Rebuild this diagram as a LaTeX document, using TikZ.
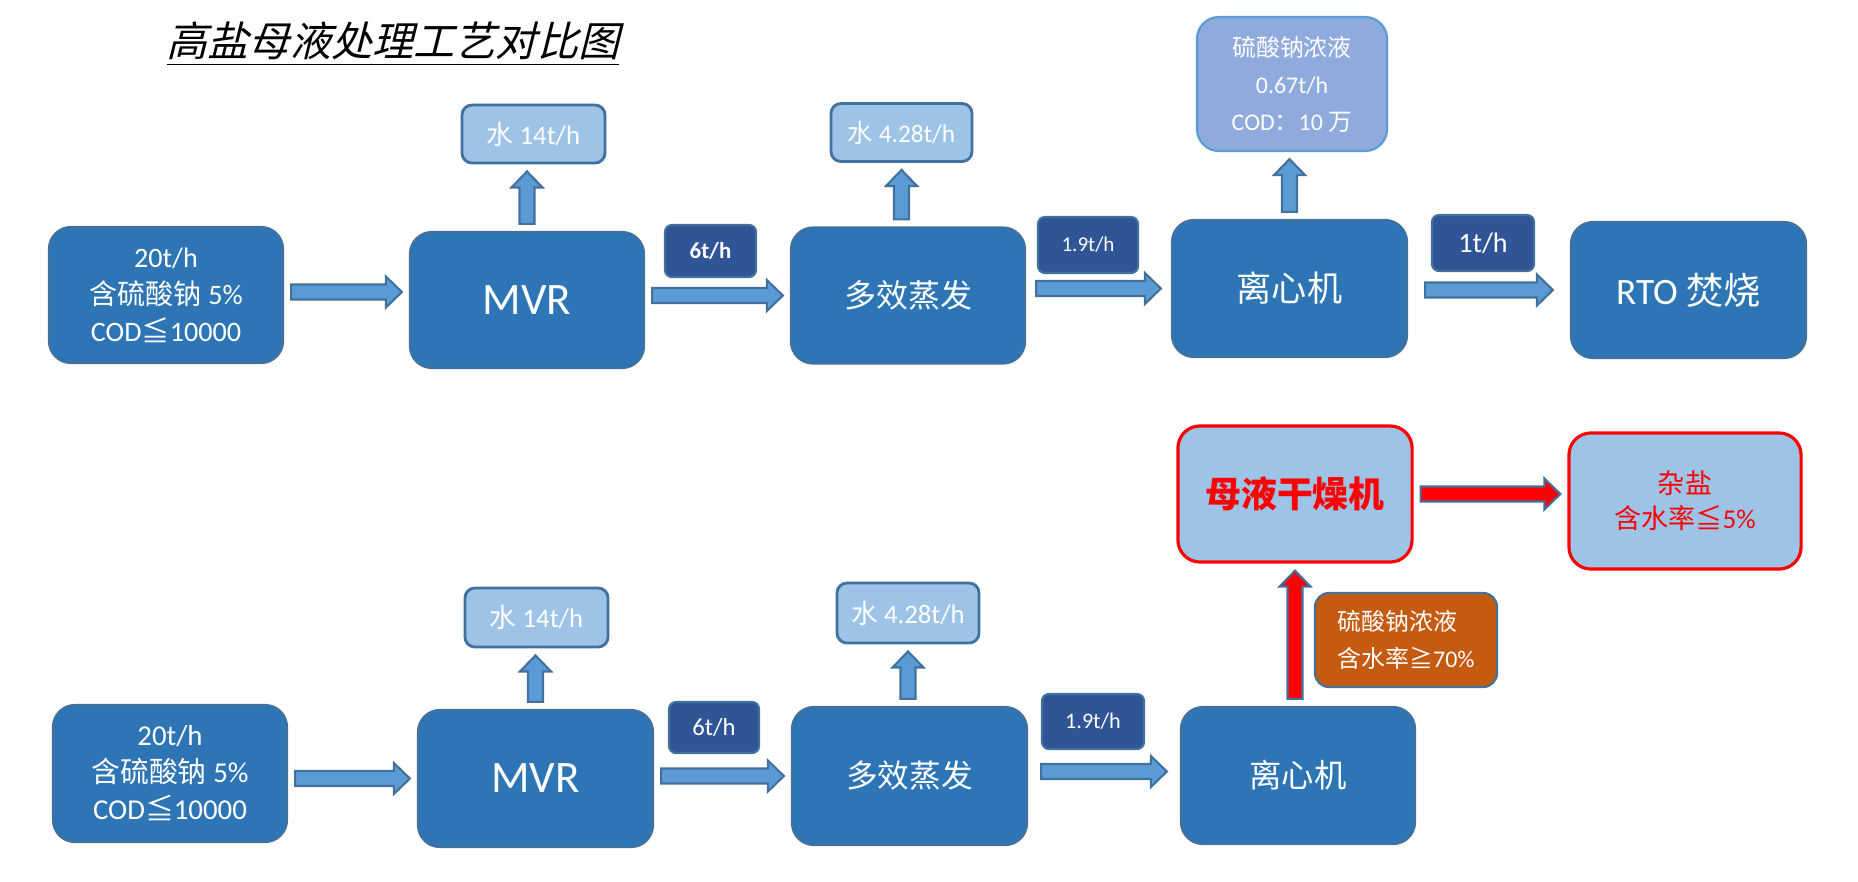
\documentclass[tikz,border=0pt]{standalone}
\usepackage{fontspec}
\setmainfont{Carlito}
\newfontfamily\cjk{Noto Sans CJK SC}
\newfontfamily\cjktitulo[FakeSlant=0.25]{Noto Sans CJK SC}
\usetikzlibrary{calc}

\definecolor{cajaazul}{HTML}{2E75B6}
\definecolor{bordeazul}{HTML}{41719C}
\definecolor{azulclaro}{HTML}{9DC3E6}
\definecolor{azuloscuro}{HTML}{2F5597}
\definecolor{flecha}{HTML}{5B9BD5}
\definecolor{lila}{HTML}{8FAADC}
\definecolor{naranja}{HTML}{C55A11}

\begin{document}
\begin{tikzpicture}[x=0.01cm, y=-0.01cm,
    proceso/.style={draw=bordeazul, fill=cajaazul, line width=0.6pt, rounded corners=0.22cm,
      text=white, align=center, minimum width=2.34cm, minimum height=1.36cm, inner sep=0pt},
    agua/.style={draw=bordeazul, fill=azulclaro, line width=0.8pt, rounded corners=0.1cm,
      text=white, minimum width=1.43cm, minimum height=0.58cm, inner sep=0pt,
      font=\fontsize{7.6pt}{9pt}\selectfont},
    caudal/.style={draw=bordeazul, fill=azuloscuro, line width=0.6pt, rounded corners=0.07cm,
      text=white, minimum height=0.52cm, inner sep=0pt},
    hueco/.store in=\hueco, hueco=0.07cm,
    flechagorda/.style={draw=bordeazul, fill=flecha, line width=0.6pt, line join=miter,
      to path={let \p1=($(\tikztostart)!\hueco!(\tikztotarget)$),
                   \p2=($(\tikztotarget)!\hueco!(\tikztostart)$),
                   \p3=($(\p2)!0.16cm!(\p1)$) in
        ($(\p1)!0.075cm!90:(\p3)$) -- ($(\p3)!0.075cm!-90:(\p1)$) -- ($(\p3)!0.155cm!-90:(\p1)$)
        -- (\p2) -- ($(\p3)!0.155cm!90:(\p1)$) -- ($(\p3)!0.075cm!90:(\p1)$)
        -- ($(\p1)!0.075cm!-90:(\p3)$) -- cycle}},
    flecharoja/.style={flechagorda, fill=red}
  ]
  \fill[white] (0,0) rectangle (1858,881);
  \useasboundingbox (0,0) rectangle (1858,881);

  % Titulo
  \node (titulo) at (393,44) {\cjktitulo\fontsize{11.7pt}{14pt}\selectfont\underline{高盐母液处理工艺对比图}};

  % Proceso con RTO
  \node[proceso, font=\fontsize{8pt}{10.5pt}\selectfont] (ent1) at (166,295)
    {20t/h\\{\cjk 含硫酸钠} 5\%\\COD{\cjk ≦}10000};
  \node[proceso, font=\fontsize{12.8pt}{15pt}\selectfont] (mvr1) at (527,300) {MVR};
  \node[agua] (agua1) at (533.5,134) {{\cjk 水} 14t/h};
  \node[caudal, minimum width=0.91cm, font=\bfseries\fontsize{6.5pt}{8pt}\selectfont] (q1) at (710.5,251) {6t/h};
  \node[proceso, font=\cjk\fontsize{9.1pt}{11pt}\selectfont] (efecto1) at (908,295.5) {多效蒸发};
  \node[agua, minimum width=1.41cm, font=\fontsize{7.2pt}{9pt}\selectfont] (agua2) at (901.5,132.5) {{\cjk 水} 4.28t/h};
  \node[caudal, minimum width=1cm, minimum height=0.56cm, font=\fontsize{6pt}{8pt}\selectfont] (q2) at (1088,245) {1.9t/h};
  \node[proceso, minimum width=2.35cm, minimum height=1.37cm, font=\cjk\fontsize{10pt}{12pt}\selectfont] (centri1) at (1289.5,288.5) {离心机};
  \node[proceso, fill=lila, draw=flecha, minimum width=1.9cm, minimum height=1.34cm,
    font=\fontsize{6.8pt}{10.5pt}\selectfont] (conc1) at (1292,84)
    {{\cjk 硫酸钠浓液}\\0.67t/h\\COD{\cjk ：}10 {\cjk 万}};
  \node[caudal, minimum width=1.02cm, minimum height=0.56cm, font=\fontsize{8pt}{10pt}\selectfont] (q3) at (1483,243) {1t/h};
  \node[proceso, minimum width=2.35cm, font=\fontsize{10.6pt}{12pt}\selectfont] (rto) at (1688.5,290) {RTO {\cjk 焚烧}};

  \draw[flechagorda] ([yshift=0.03cm]ent1.east) to ([yshift=0.03cm]ent1.east -| mvr1.west);
  \draw[flechagorda] (efecto1.west -| mvr1.east) to (efecto1.west);
  \draw[flechagorda, hueco=0.1cm] (centri1.west -| efecto1.east) to (centri1.west);
  \draw[flechagorda, hueco=0.17cm] (rto.west -| centri1.east) to (rto.west);
  \draw[flechagorda] (mvr1.north) to (mvr1.north |- agua1.south);
  \draw[flechagorda] (agua2.south |- efecto1.north) to (agua2.south);
  \draw[flechagorda] (centri1.north) to (centri1.north |- conc1.south);

  % Proceso con secador
  \node[proceso, minimum height=1.37cm, font=\fontsize{8.2pt}{10.5pt}\selectfont] (ent2) at (170,773.5)
    {20t/h\\{\cjk 含硫酸钠} 5\%\\COD{\cjk ≦}10000};
  \node[proceso, minimum width=2.35cm, minimum height=1.37cm, font=\fontsize{12.8pt}{15pt}\selectfont] (mvr2) at (535.5,778.5) {MVR};
  \node[agua, minimum height=0.59cm] (agua3) at (536.5,617.5) {{\cjk 水} 14t/h};
  \node[caudal, minimum width=0.9cm, minimum height=0.51cm, font=\fontsize{7pt}{8pt}\selectfont] (q4) at (714,727.5) {6t/h};
  \node[proceso, minimum width=2.35cm, minimum height=1.38cm, font=\cjk\fontsize{9pt}{11pt}\selectfont] (efecto2) at (909.5,776) {多效蒸发};
  \node[agua, minimum width=1.42cm, minimum height=0.6cm] (agua4) at (908,613) {{\cjk 水} 4.28t/h};
  \node[caudal, minimum width=1.02cm, minimum height=0.55cm, font=\fontsize{6.3pt}{8pt}\selectfont] (q5) at (1093,721.5) {1.9t/h};
  \node[proceso, minimum height=1.37cm, font=\cjk\fontsize{9.2pt}{11pt}\selectfont] (centri2) at (1298,775.5) {离心机};
  \node[proceso, fill=naranja, minimum width=1.82cm, minimum height=0.94cm, rounded corners=0.14cm,
    align=left, font=\fontsize{6.8pt}{10.5pt}\selectfont] (conc2) at (1406,640)
    {{\cjk 硫酸钠浓液}\\{\cjk 含水率≧}70\%};
  \node[proceso, draw=red, fill=azulclaro, line width=0.9pt, text=red,
    font=\cjk\bfseries\fontsize{10.2pt}{12pt}\selectfont] (secador) at (1295,494) {母液干燥机};
  \node[proceso, draw=red, fill=azulclaro, line width=0.9pt, text=red, minimum width=2.32cm,
    font=\fontsize{7.7pt}{10pt}\selectfont] (sal) at (1685,501) {{\cjk 杂盐}\\{\cjk 含水率≦}5\%};

  \draw[flechagorda] (mvr2.west -| ent2.east) to (mvr2.west);
  \draw[flechagorda] (efecto2.west -| mvr2.east) to (efecto2.west);
  \draw[flechagorda, hueco=0.13cm] ([yshift=0.04cm]centri2.west -| efecto2.east) to ([yshift=0.04cm]centri2.west);
  \draw[flechagorda] (mvr2.north) to (mvr2.north |- agua3.south);
  \draw[flechagorda] (agua4.south |- efecto2.north) to (agua4.south);
  \draw[flecharoja] (secador.south |- centri2.north) to (secador.south);
  \draw[flecharoja] (secador.east) to (secador.east -| sal.west);
\end{tikzpicture}
\end{document}
